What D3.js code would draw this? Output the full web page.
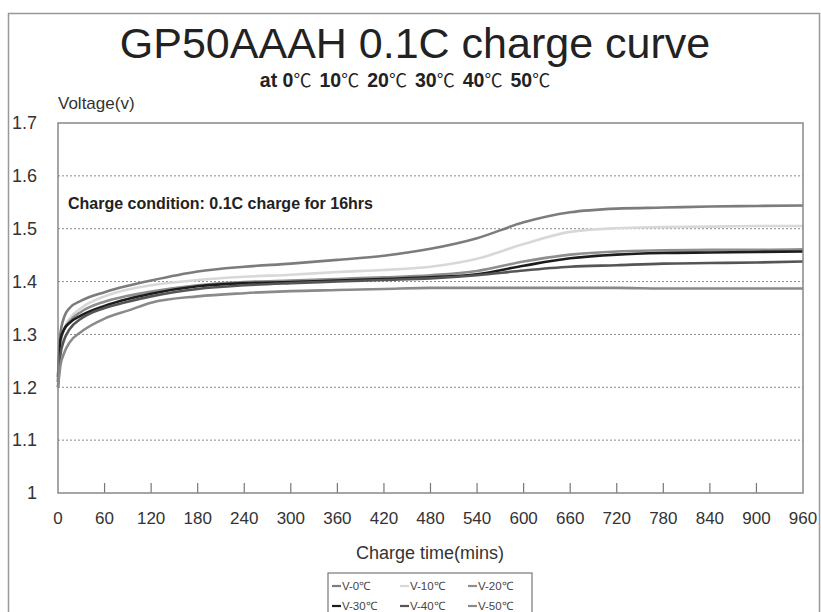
<!DOCTYPE html>
<html>
<head>
<meta charset="utf-8">
<script src="https://cdn.jsdelivr.net/npm/d3@7"></script>
<style>
  body { margin: 0; background: #fff; }
  svg { display: block; font-family: "Liberation Sans", Arial, sans-serif; }
</style>
</head>
<body>
<div class="container"></div>
<script>
// charge time (mins)
const times = [0, 3, 8, 15, 30, 60, 90, 120, 180, 240, 300, 360, 420, 480, 540, 600, 660, 720, 780, 840, 900, 960];

// voltage readings per temperature
const v0 = [1.22, 1.30, 1.333, 1.35, 1.364, 1.38, 1.392, 1.402, 1.419, 1.428, 1.434, 1.441, 1.449, 1.462, 1.482, 1.512, 1.531, 1.538, 1.540, 1.542, 1.543, 1.544];
const v10 = [1.22, 1.28, 1.31, 1.33, 1.35, 1.372, 1.385, 1.393, 1.403, 1.409, 1.413, 1.418, 1.422, 1.428, 1.443, 1.471, 1.494, 1.501, 1.503, 1.504, 1.505, 1.505];
const v20 = [1.22, 1.285, 1.31, 1.325, 1.343, 1.362, 1.373, 1.381, 1.393, 1.399, 1.402, 1.405, 1.408, 1.412, 1.42, 1.438, 1.451, 1.457, 1.459, 1.46, 1.46, 1.461];
const v30 = [1.21, 1.29, 1.31, 1.322, 1.336, 1.354, 1.367, 1.377, 1.391, 1.397, 1.399, 1.402, 1.405, 1.408, 1.414, 1.43, 1.444, 1.451, 1.454, 1.455, 1.456, 1.457];
const v40 = [1.2, 1.26, 1.29, 1.31, 1.33, 1.35, 1.362, 1.372, 1.386, 1.393, 1.397, 1.4, 1.403, 1.406, 1.412, 1.421, 1.428, 1.431, 1.434, 1.435, 1.436, 1.438];
const v50 = [1.2, 1.24, 1.265, 1.285, 1.305, 1.33, 1.345, 1.36, 1.372, 1.378, 1.382, 1.384, 1.386, 1.388, 1.388, 1.388, 1.388, 1.388, 1.387, 1.387, 1.387, 1.387];

const seriesNames = ["V-0℃", "V-10℃", "V-20℃", "V-30℃", "V-40℃", "V-50℃"];
const seriesColors = ["#7c7c7c", "#d8d8d8", "#8e8e8e", "#1c1c1c", "#555555", "#8a8a8a"];
const subtitleTemps = ["0", "10", "20", "30", "40", "50"];

const xTicks = d3.range(0, 961, 60);
const yTicks = [1, 1.1, 1.2, 1.3, 1.4, 1.5, 1.6, 1.7];

d3.select(".container").call(chart);

function chart(container) {
  const width = 821;
  const height = 612;
  const margin = { left: 58, right: 18, top: 123, bottom: 119 };
  const innerWidth = width - margin.left - margin.right;
  const innerHeight = height - margin.top - margin.bottom;

  const series = [v0, v10, v20, v30, v40, v50].map((vals, i) => ({
    name: seriesNames[i],
    color: seriesColors[i],
    values: times.map((t, j) => ({ t, v: vals[j] })),
  }));

  //scale
  const x = d3.scaleLinear().domain([0, 960]).range([0, innerWidth]);
  const y = d3.scaleLinear().domain([1, 1.7]).range([innerHeight, 0]);

  const svg = container
    .append("svg")
    .attr("width", width)
    .attr("height", height);

  //outer frame
  svg
    .append("rect")
    .attr("x", 8.5)
    .attr("y", 13.5)
    .attr("width", 811)
    .attr("height", 640)
    .attr("fill", "none")
    .attr("stroke", "#999")
    .attr("stroke-width", 1.5);

  //titles
  svg
    .append("text")
    .attr("x", 415)
    .attr("y", 58)
    .attr("text-anchor", "middle")
    .attr("font-size", 43)
    .attr("fill", "#222")
    .text("GP50AAAH 0.1C charge curve");

  const sub = svg
    .append("text")
    .attr("x", 405)
    .attr("y", 87)
    .attr("text-anchor", "middle")
    .attr("font-size", 19.5)
    .attr("fill", "#222");

  sub.append("tspan").attr("font-weight", "bold").text("at ");
  subtitleTemps.forEach((t, i) => {
    sub
      .append("tspan")
      .attr("font-weight", "bold")
      .attr("dx", i ? 4 : 0)
      .text(t);
    sub
      .append("tspan")
      .attr("font-family", "'Noto Sans CJK SC', sans-serif")
      .attr("font-size", 18)
      .text("℃" + (i < subtitleTemps.length - 1 ? " " : ""));
  });

  svg
    .append("text")
    .attr("x", 58)
    .attr("y", 109)
    .attr("font-size", 17)
    .attr("fill", "#333")
    .text("Voltage(v)");

  const g = svg
    .append("g")
    .attr("transform", `translate(${margin.left},${margin.top})`);

  //grid
  g.selectAll("line.grid")
    .data(yTicks.filter((d) => d > 1 && d < 1.7))
    .join("line")
    .attr("class", "grid")
    .attr("x1", 0)
    .attr("x2", innerWidth)
    .attr("y1", (d) => y(d))
    .attr("y2", (d) => y(d))
    .attr("stroke", "#8a8a8a")
    .attr("stroke-width", 1)
    .attr("stroke-dasharray", "2,2");

  //y labels
  g.selectAll("text.ylab")
    .data(yTicks)
    .join("text")
    .attr("class", "ylab")
    .attr("x", -21)
    .attr("y", (d) => y(d))
    .attr("dy", "0.35em")
    .attr("text-anchor", "end")
    .attr("font-size", 18)
    .attr("fill", "#333")
    .text((d) => (d === 1 ? "1" : d.toFixed(1)));

  //x axis ticks
  g.selectAll("line.xtick")
    .data(xTicks.filter((d) => d > 0 && d < 960))
    .join("line")
    .attr("class", "xtick")
    .attr("x1", (d) => x(d))
    .attr("x2", (d) => x(d))
    .attr("y1", innerHeight)
    .attr("y2", innerHeight - 10)
    .attr("stroke", "#777")
    .attr("stroke-width", 1.2);

  g.selectAll("text.xlab")
    .data(xTicks)
    .join("text")
    .attr("class", "xlab")
    .attr("x", (d) => x(d))
    .attr("y", innerHeight + 31)
    .attr("text-anchor", "middle")
    .attr("font-size", 17)
    .attr("fill", "#333")
    .text((d) => d);

  svg
    .append("text")
    .attr("x", 430)
    .attr("y", 559)
    .attr("text-anchor", "middle")
    .attr("font-size", 18)
    .attr("fill", "#333")
    .text("Charge time(mins)");

  //note
  g.append("text")
    .attr("x", 10)
    .attr("y", 86)
    .attr("font-size", 16)
    .attr("font-weight", "bold")
    .attr("fill", "#222")
    .text("Charge condition: 0.1C charge for 16hrs");

  //lines
  const line = d3
    .line()
    .x((d) => x(d.t))
    .y((d) => y(d.v))
    .curve(d3.curveMonotoneX);

  g.selectAll("path.series")
    .data(series)
    .join("path")
    .attr("class", "series")
    .attr("fill", "none")
    .attr("stroke", (d) => d.color)
    .attr("stroke-width", 2.6)
    .attr("stroke-linejoin", "round")
    .attr("d", (d) => line(d.values));

  //plot frame
  g.append("rect")
    .attr("width", innerWidth)
    .attr("height", innerHeight)
    .attr("fill", "none")
    .attr("stroke", "#888")
    .attr("stroke-width", 1.5);

  //legend
  svg
    .append("g")
    .attr("transform", "translate(328,573)")
    .call(legend, series);
}

function legend(g, series) {
  g.append("rect")
    .attr("width", 204)
    .attr("height", 60)
    .attr("fill", "#fff")
    .attr("stroke", "#777")
    .attr("stroke-width", 1.2);

  const item = g
    .selectAll("g.item")
    .data(series)
    .join("g")
    .attr("class", "item")
    .attr("transform", (d, i) => `translate(${4 + (i % 3) * 68},${13 + Math.floor(i / 3) * 20})`);

  item
    .append("line")
    .attr("x1", 0)
    .attr("x2", 9)
    .attr("y1", 0)
    .attr("y2", 0)
    .attr("stroke", (d) => d.color)
    .attr("stroke-width", 2.2);

  item
    .append("text")
    .attr("x", 10)
    .attr("dy", "0.35em")
    .attr("font-size", 11.5)
    .attr("fill", "#444")
    .text((d) => d.name);
}
</script>
</body>
</html>
